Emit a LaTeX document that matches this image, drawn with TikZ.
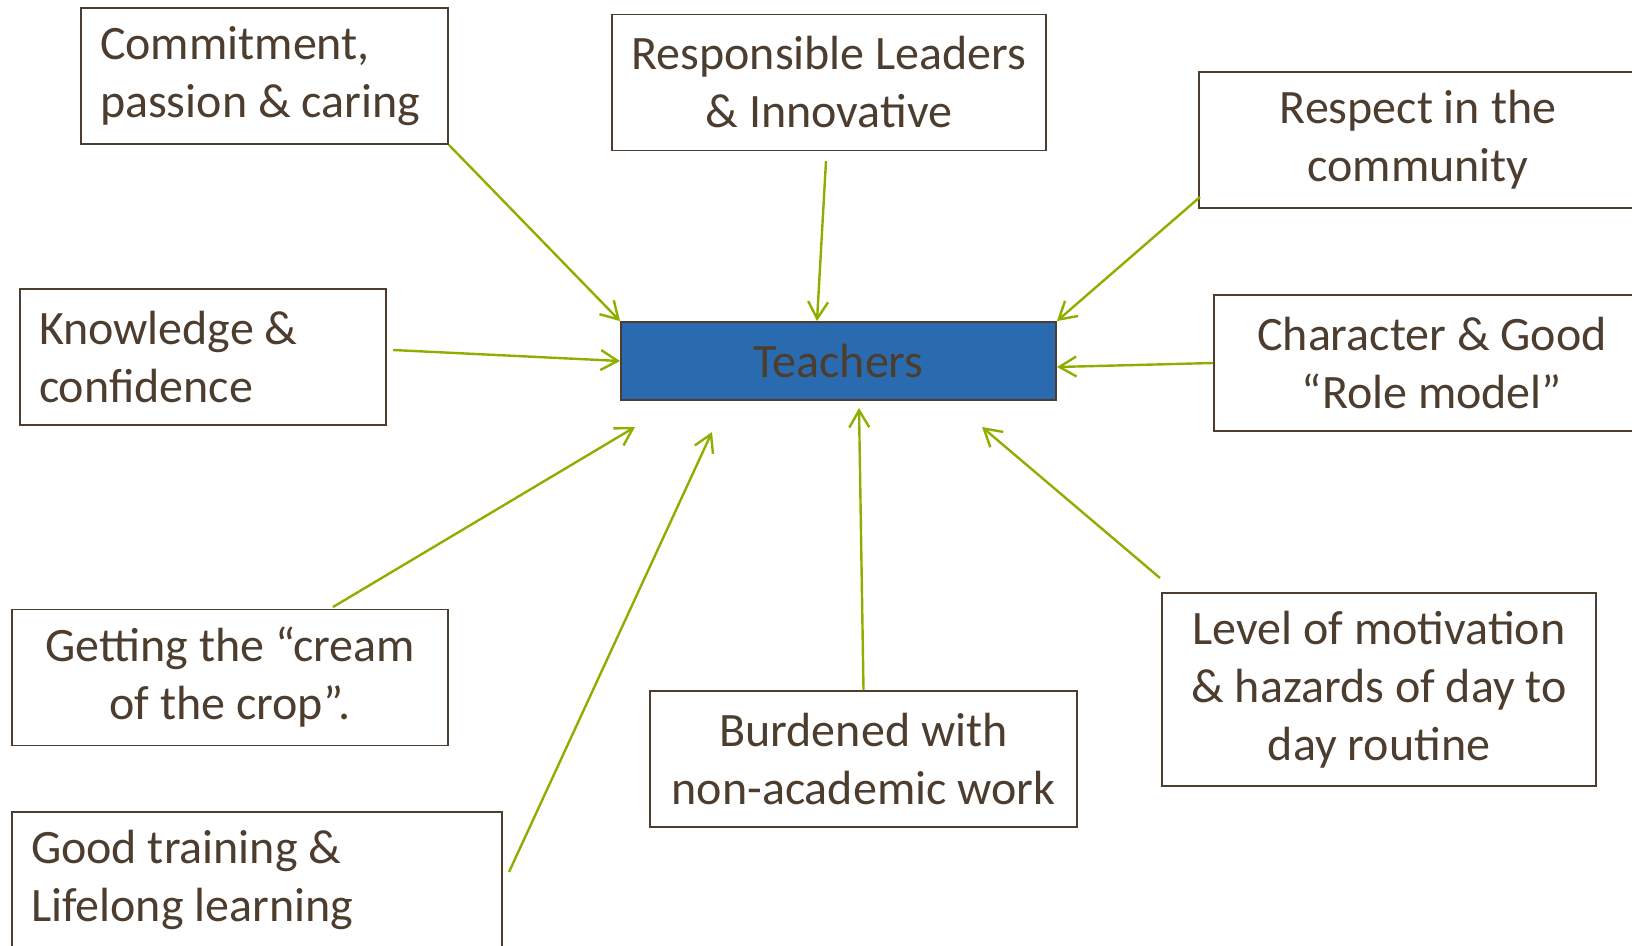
\documentclass[tikz,border=0pt]{standalone}
\usepackage{fontspec}
\setmainfont{Carlito}
\usetikzlibrary{arrows.meta}
\definecolor{bark}{HTML}{4C3D2F}
\definecolor{leaf}{HTML}{8DB000}
\definecolor{sea}{HTML}{2A6BB0}
\begin{document}
\begin{tikzpicture}[x=1pt,y=-1pt,
  box/.style={draw=bark,line width=1.8pt,text=bark,rectangle,inner xsep=19pt,
    font=\fontsize{48}{58}\selectfont,minimum height=136pt},
  lbox/.style={box,align=flush left,text width=#1},
  cbox/.style={box,align=center,minimum width=#1},
  arr/.style={draw=leaf,line width=2.4pt,-{Straight Barb[length=17pt,width=20pt]}}]

\useasboundingbox (0,0) rectangle (1632,945);

% the centre box
\node[cbox=435pt,fill=sea,minimum height=78pt] (teach) at (838.5,361) {Teachers};

% boxes round it
\node[lbox=329pt] (commit) at (264.5,76) {Commitment,\\passion \& caring};
\node[cbox=434pt] (lead) at (829,82.5) {Responsible Leaders\\\& Innovative};
\node[cbox=438pt] (resp) at (1418,140) {Respect in the\\community};
\node[lbox=328pt] (know) at (203,357) {Knowledge \&\\confidence};
\node[cbox=436pt] (char) at (1432,363) {Character \& Good\\“Role model”};
\node[cbox=436pt] (cream) at (230,677.5) {Getting the “cream\\of the crop”.};
\node[lbox=452pt] (train) at (257,880) {Good training \&\\Lifelong learning};
\node[cbox=427pt] (burd) at (863.5,759) {Burdened with\\non-academic work};
\node[cbox=434pt,minimum height=193pt] (motiv) at (1379,689.5) {Level of motivation\\\& hazards of day to\\day routine};

% free ends of the arrows
\coordinate (lead0) at (826,161);
\coordinate (lead1) at (817,321);
\coordinate (resp0) at (1200,197);
\coordinate (know0) at (393,350);
\coordinate (char1) at (1057,367);
\coordinate (cream0) at (333,607);
\coordinate (cream1) at (635,427);
\coordinate (train0) at (509,872);
\coordinate (train1) at (712,432);
\coordinate (burd1) at (859,408);
\coordinate (motiv0) at (1160,578);
\coordinate (motiv1) at (982,427);

\foreach \a/\b in {commit.south east/teach.north west, lead0/lead1,
  resp0/teach.north east, know0/teach.west, char.west/char1,
  cream0/cream1, train0/train1, burd.north/burd1, motiv0/motiv1}
  \draw[arr] (\a) -- (\b);
\end{tikzpicture}
\end{document}
